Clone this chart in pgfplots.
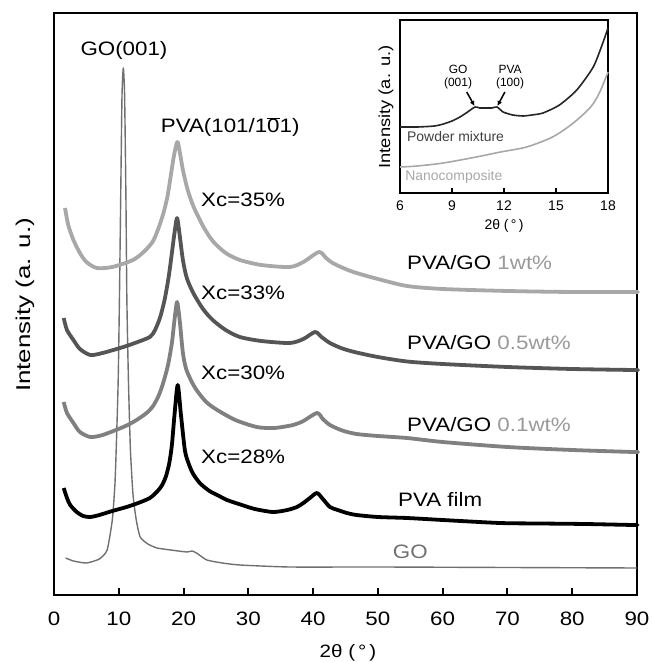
\documentclass[border=0pt]{standalone}
\usepackage{pgfplots}
\pgfplotsset{compat=1.18}
\usetikzlibrary{arrows.meta}
\usepackage{fontspec}
\setmainfont{Liberation Sans}
\newfontfamily\wide{Liberation Sans}[FakeStretch=1.15]
\newfontfamily\wideb{Liberation Sans}[FakeStretch=1.3]
\definecolor{cone}{HTML}{A8A8A8}
\definecolor{chalf}{HTML}{555555}
\definecolor{ctenth}{HTML}{808080}
\definecolor{cgo}{HTML}{707070}
\definecolor{tgray}{HTML}{999999}

\pgfplotstableread{
x y
1.8 37
3 34
5 32
7 36
8.2 45
9.0 75
9.4 110
9.6 145
9.9 212
10.1 295
10.3 400
10.5 500
10.7 527
10.9 500
11.1 400
11.25 295
11.5 212
11.8 145
12.2 100
12.7 75
13.3 58
14.5 51
15.9 47
18 45
20.5 43
21.3 44
22 42
23.6 35
26 32
28.7 30
36.4 28
50 28
70 27.5
90 27
}\go

\pgfplotstableread{
x y
1.5 107
2 97
2.5 90
3.5 83
4.5 79
5.6 78
7 80
9 84
11.2 88
13 92
14.8 97
16 104
16.7 110
17.3 119
17.8 132
18.2 150
18.6 180
19.1 210
19.6 180
20.2 145
20.7 133
21.4 122
22.5 112
24 104
25.5 99
26.7 95
29 90
31 86
33.8 83
36 85
37.5 88
38.5 92
39.5 97
40.6 102
41.5 96
42.6 88
43.8 85
45.2 82
46.7 80
50 78
54.5 77
60 75
68.8 72
75 71.5
82 71
89.4 70
90 70
}\film

\pgfplotstableread{
x y
1.5 193
2 182
3 172
4 163
5.6 158
7.5 160
10.7 168
12.5 174
14.3 182
15.3 189
16.2 200
16.9 213
17.6 230
18.2 252
18.6 275
19 293
19.4 275
19.9 242
20.4 226
21.2 214
22 205
23.5 193
25.2 185
28 175
31.3 168
34 167
36.9 170
38.5 174
40.6 182
41.5 176
42.6 170
44.5 164.5
46.7 161
50 159
54.5 157
60 153
70 148
80 145
89.4 143
90 143
}\tenth

\pgfplotstableread{
x y
1.5 277
2 265
3 255
4 246
5.6 240
7.5 242
10.7 248
12.5 252
14.8 258
15.6 265
16.4 278
17.1 296
17.7 318
18.2 342
18.6 362
19 377
19.4 360
19.9 335
20.5 317
21.5 302
23 286
24.5 275
26.5 265
28.7 258
32 254
36.4 252
38.5 256
40.3 263
41.3 258
42.6 252
44.5 246.5
46.7 242.5
50 238
54.5 233.5
60 231
70 228
80 226
89.4 225
90 225
}\half

\pgfplotstableread{
x y
1.7 387
2.2 370
3 355
4 342
5 333
6.6 327
9 328
12.2 335
14 344
15.3 354
16.2 368
16.9 382
17.5 398
18 418
18.4 435
18.8 448
19.1 453
19.5 440
19.9 425
20.6 406
21.5 389
23 369
24.5 354
26.5 342
28.7 335
32 330
36.4 328
38.5 333
40.9 343
42 337
43 332
45 326
46.7 322
50 316
54.5 309
60 306
70 304
80 303
89.4 303
90 303
}\one

\pgfplotstableread{
x y
6 66
7 66
8 67
8.5 69
9 72
9.46 76
9.9 81
10.33 86
10.6 85
11 85
11.3 85
11.6 86
11.95 81
12.5 78
13.1 77
13.6 78
14.25 80
15.2 88
16.2 103
17.15 126
17.7 150
18 165
}\powder

\pgfplotstableread{
x y
6 26
7 27
8.5 30
10.4 36
11.8 41
13.3 46
14.8 56
16 70
17 86
17.5 100
18 121
}\nano

\begin{document}
\begin{tikzpicture}
\path[use as bounding box] (0,0) rectangle (653bp,662bp);
\begin{axis}[at={(54bp,67bp)}, anchor=south west, scale only axis,
  width=583bp, height=582bp,
  xmin=0, xmax=90, ymin=0, ymax=582,
  axis line style={line width=2.5bp},
  xtick={0,10,...,90}, ytick=\empty, xtick pos=left, tick align=inside,
  major tick length=7bp, tick style={line width=2bp, black},
  /pgf/number format/assume math mode=true,
  xticklabel style={font=\wide\fontsize{19.5}{22}\selectfont, anchor=center, yshift=-24bp},
  clip=false]
\addplot[cgo, line width=1.4bp, smooth, tension=0.35, line join=round] table {\go};
\addplot[black, line width=3.8bp, smooth, tension=0.45, line join=round] table {\film};
\addplot[ctenth, line width=3.8bp, smooth, tension=0.45, line join=round] table {\tenth};
\addplot[chalf, line width=3.8bp, smooth, tension=0.45, line join=round] table {\half};
\addplot[cone, line width=3.8bp, smooth, tension=0.45, line join=round] table {\one};
\begin{scope}[every node/.style={font=\wide\fontsize{19.5}{22}\selectfont, inner sep=0pt}]
\node at (axis cs:10.8,545) {GO(001)};
\node at (axis cs:27.2,468) {PVA(101/1$\overline{\mbox{0}}$1)};
\node at (axis cs:29.2,395) {Xc=35\%};
\node at (axis cs:29.2,302) {Xc=33\%};
\node at (axis cs:29.2,222) {Xc=30\%};
\node at (axis cs:29.2,138) {Xc=28\%};
\node[anchor=west] at (axis cs:54.5,332) {PVA/GO \textcolor{tgray}{1wt\%}};
\node[anchor=west] at (axis cs:54.5,252) {PVA/GO \textcolor{tgray}{0.5wt\%}};
\node[anchor=west] at (axis cs:54.5,170) {PVA/GO \textcolor{tgray}{0.1wt\%}};
\node[anchor=west] at (axis cs:53.1,96) {PVA film};
\node[anchor=west, text=cgo] at (axis cs:52.3,43) {GO};
\end{scope}
\end{axis}
\node[rotate=90, font=\wideb\fontsize{20}{22}\selectfont] at (25bp,357bp) {Intensity (a. u.)};
\node[font=\wide\fontsize{18}{20}\selectfont] at (348bp,9bp) {2θ (\,°\,)};

\begin{axis}[at={(400bp,469bp)}, anchor=south west, scale only axis,
  width=208bp, height=173bp,
  xmin=6, xmax=18, ymin=0, ymax=173,
  axis line style={line width=1.3bp},
  axis background/.style={fill=white},
  xtick={6,9,12,15,18}, ytick=\empty, xtick pos=left, tick align=inside,
  major tick length=5bp, tick style={line width=1.3bp, black},
  /pgf/number format/assume math mode=true,
  xticklabel style={font=\fontsize{14}{16}\selectfont, anchor=center, yshift=-13bp},
  clip=false]
\addplot[black!85, line width=1.6bp, smooth, tension=0.4, line join=round] table {\powder};
\addplot[cone, line width=1.6bp, smooth, tension=0.5, line join=round] table {\nano};
\node[font=\fontsize{12}{13}\selectfont, align=center, inner sep=0pt] at (axis cs:9.35,116) {GO\\(001)};
\node[font=\fontsize{12}{13}\selectfont, align=center, inner sep=0pt] at (axis cs:12.35,116) {PVA\\(100)};
\draw[line width=1.5bp, -{Latex[length=5bp,width=5bp]}] (axis cs:9.85,101) -- (axis cs:10.3,87);
\draw[line width=1.5bp, -{Latex[length=5bp,width=5bp]}] (axis cs:12.05,101) -- (axis cs:11.62,87);
\node[anchor=west, font=\fontsize{14}{16}\selectfont, text=black!75, inner sep=0pt] at (axis cs:6.4,56) {Powder mixture};
\node[anchor=west, font=\fontsize{14}{16}\selectfont, text=cone, inner sep=0pt] at (axis cs:6.3,16) {Nanocomposite};
\end{axis}
\node[rotate=90, font=\wide\fontsize{16}{18}\selectfont] at (386bp,555bp) {Intensity (a. u.)};
\node[font=\fontsize{14}{16}\selectfont] at (504bp,436bp) {2θ (\,°\,)};
\end{tikzpicture}
\end{document}
